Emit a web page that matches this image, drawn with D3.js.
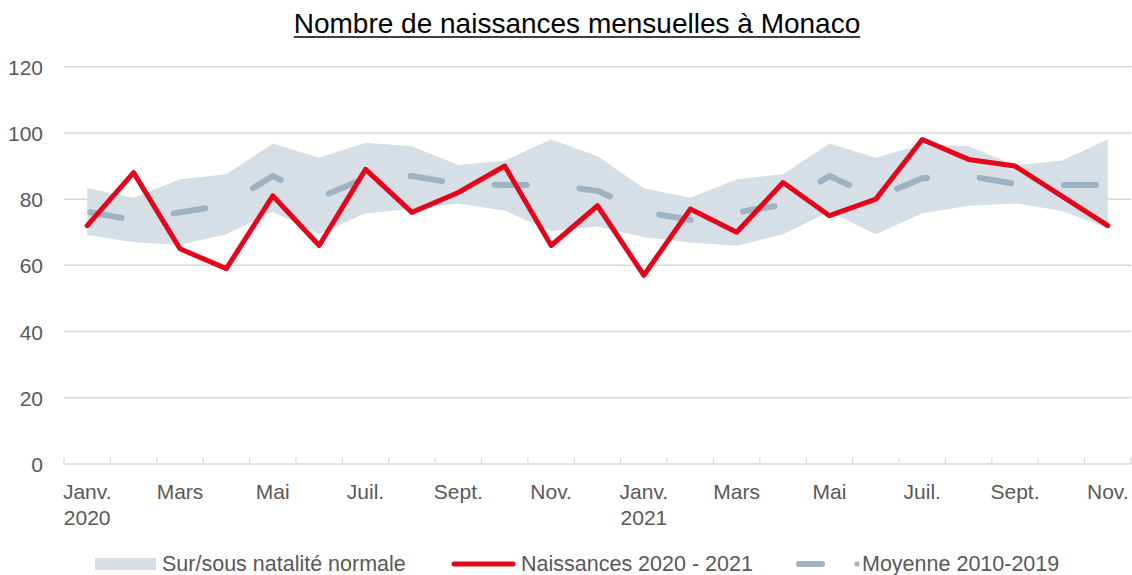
<!DOCTYPE html>
<html>
<head>
  <meta charset="utf-8">
  <title>Nombre de naissances mensuelles à Monaco</title>
  <script src="https://cdn.jsdelivr.net/npm/d3@7"></script>
  <style>
    body { margin: 0; background: #fff; }
    text { font-family: "Liberation Sans", Arial, sans-serif; }
  </style>
</head>
<body>
<script>
// Mois de janv. 2020 à nov. 2021
const categories = ["2020-01","2020-02","2020-03","2020-04","2020-05","2020-06","2020-07","2020-08","2020-09","2020-10","2020-11","2020-12",
                    "2021-01","2021-02","2021-03","2021-04","2021-05","2021-06","2021-07","2021-08","2021-09","2021-10","2021-11"];
// étiquettes de l'axe x ("|" = retour à la ligne)
const tickLabels = ["Janv.|2020","","Mars","","Mai","","Juil.","","Sept.","","Nov.","",
                    "Janv.|2021","","Mars","","Mai","","Juil.","","Sept.","","Nov."];
const naissances = [72, 88, 65, 59, 81, 66, 89, 76, 82, 90, 66, 78,
                    57, 77, 70, 85, 75, 80, 98, 92, 90, 81, 72];
const moyenne = [76.2, 73.7, 76, 78.3, 87, 80.5, 86.3, 87, 84.6, 84.3, 84.3, 82.5,
                 76.2, 73.7, 76, 78.3, 87, 80.5, 86.3, 87, 84.6, 84.3, 84.3];
const bandeHaut = [83.4, 80.4, 86, 87.5, 96.8, 92.5, 97, 96, 90.3, 91.6, 98, 93,
                   83.3, 80.4, 86, 87.5, 96.8, 92.5, 96.6, 96, 90.3, 91.6, 98];
const bandeBas = [69.2, 67, 66.2, 69.4, 76.2, 69.4, 75.7, 77, 78.7, 76.5, 70.4, 71.7,
                  68.5, 66.9, 65.9, 69.4, 76.2, 69.4, 75.7, 78, 78.7, 76.5, 71.2];
const yTicks = [0, 20, 40, 60, 80, 100, 120];

const W = 1132, H = 575;
const svg = d3.select("body").append("svg")
  .attr("width", W).attr("height", H);

const x = d3.scaleBand().domain(categories).range([64, 1131]);
const y = d3.scaleLinear().domain([0, 120]).range([464, 66.7]);
const cx = d => x(d) + x.bandwidth() / 2;

// Titre souligné
const titre = svg.append("text")
  .attr("x", 577).attr("y", 33)
  .attr("text-anchor", "middle")
  .attr("font-size", 28)
  .attr("fill", "#000")
  .text("Nombre de naissances mensuelles à Monaco");
const tw = titre.node().getComputedTextLength();
svg.append("line")
  .attr("x1", 577 - tw / 2).attr("x2", 577 + tw / 2)
  .attr("y1", 37).attr("y2", 37)
  .attr("stroke", "#000").attr("stroke-width", 1.6);

// Grille horizontale
svg.append("g").selectAll("line")
  .data(yTicks.filter(d => d > 0))
  .join("line")
  .attr("x1", 64).attr("x2", 1131)
  .attr("y1", d => y(d)).attr("y2", d => y(d))
  .attr("stroke", "#d9d9d9").attr("stroke-width", 1.5);

// Axe y
const yAxis = svg.append("g")
  .attr("transform", "translate(43,0)")
  .call(d3.axisLeft(y).tickValues(yTicks).tickSize(0).tickPadding(0));
yAxis.select(".domain").remove();
yAxis.selectAll("text")
  .attr("font-size", 21)
  .attr("fill", "#595959")
  .attr("font-family", "Liberation Sans, Arial, sans-serif")
  .attr("dy", "0.36em");

// Bande natalité normale
const idx = d3.range(categories.length);
svg.append("path")
  .datum(idx)
  .attr("fill", "#d6dfe6")
  .attr("d", d3.area()
    .x(i => cx(categories[i]))
    .y0(i => y(bandeBas[i]))
    .y1(i => y(bandeHaut[i])));

// Axe x (ligne + graduations vers le haut)
const xg = svg.append("g");
xg.append("line")
  .attr("x1", 64).attr("x2", 1131)
  .attr("y1", y(0)).attr("y2", y(0))
  .attr("stroke", "#d9d9d9").attr("stroke-width", 1.5);
xg.selectAll("line.tick")
  .data(categories.concat(["fin"]))
  .join("line")
  .attr("class", "tick")
  .attr("x1", (d, i) => i < categories.length ? x(d) : 1131)
  .attr("x2", (d, i) => i < categories.length ? x(d) : 1131)
  .attr("y1", y(0)).attr("y2", y(0) - 6)
  .attr("stroke", "#d9d9d9").attr("stroke-width", 1.2);

const lab = xg.selectAll("text.lab")
  .data(categories.filter((d, i) => tickLabels[i] !== ""))
  .join("text")
  .attr("class", "lab")
  .attr("text-anchor", "middle")
  .attr("font-size", 21)
  .attr("fill", "#595959");
lab.each(function (d) {
  const parts = tickLabels[categories.indexOf(d)].split("|");
  d3.select(this).selectAll("tspan")
    .data(parts)
    .join("tspan")
    .attr("x", cx(d))
    .attr("y", (p, j) => 499 + j * 26)
    .text(p => p);
});

// Moyenne 2010-2019 (tirets)
const ligne = vals => d3.line()
  .x((v, i) => cx(categories[i]))
  .y(v => y(v))(vals);

svg.append("path")
  .attr("d", ligne(moyenne))
  .attr("fill", "none")
  .attr("stroke", "#9fb2c2")
  .attr("stroke-width", 6)
  .attr("stroke-linecap", "round")
  .attr("stroke-linejoin", "round")
  .attr("stroke-dasharray", "32 52.8")
  .attr("stroke-dashoffset", -3);

// Naissances 2020 - 2021
svg.append("path")
  .attr("d", ligne(naissances))
  .attr("fill", "none")
  .attr("stroke", "#e3051b")
  .attr("stroke-width", 5)
  .attr("stroke-linecap", "round")
  .attr("stroke-linejoin", "round");

// Légende
const leg = svg.append("g");
leg.append("rect")
  .attr("x", 95).attr("y", 558).attr("width", 61).attr("height", 12)
  .attr("fill", "#d6dfe6");
leg.append("text")
  .attr("x", 162).attr("y", 571)
  .attr("font-size", 21.5).attr("fill", "#595959")
  .text("Sur/sous natalité normale");

leg.append("line")
  .attr("x1", 454).attr("x2", 513).attr("y1", 564).attr("y2", 564)
  .attr("stroke", "#e3051b").attr("stroke-width", 5)
  .attr("stroke-linecap", "round");
leg.append("text")
  .attr("x", 521).attr("y", 571)
  .attr("font-size", 21.5).attr("fill", "#595959")
  .text("Naissances 2020 - 2021");

leg.append("line")
  .attr("x1", 799).attr("x2", 822).attr("y1", 564).attr("y2", 564)
  .attr("stroke", "#9fb2c2").attr("stroke-width", 6)
  .attr("stroke-linecap", "round");
leg.append("circle")
  .attr("cx", 857).attr("cy", 564).attr("r", 2.6)
  .attr("fill", "#9fb2c2");
leg.append("text")
  .attr("x", 862).attr("y", 571)
  .attr("font-size", 21.5).attr("fill", "#595959")
  .text("Moyenne 2010-2019");
</script>
</body>
</html>
